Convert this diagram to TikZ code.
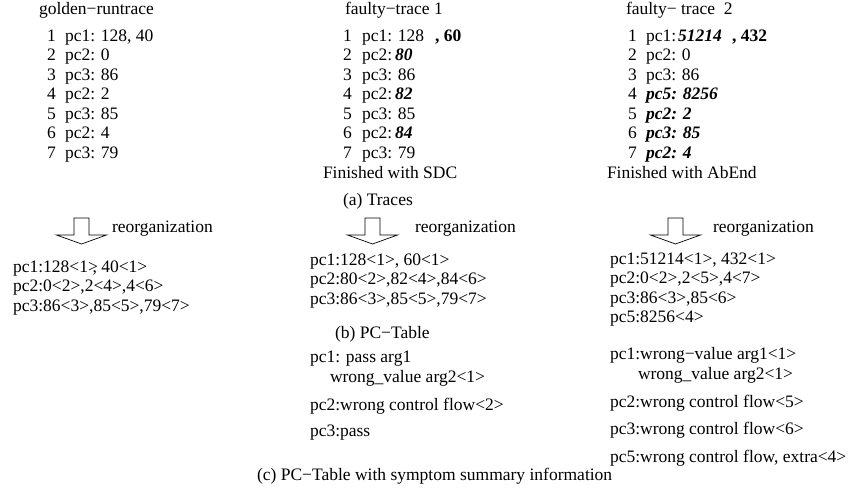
\documentclass[tikz,border=0pt]{standalone}
\usepackage{fontspec}
\setmainfont{Liberation Serif}
\begin{document}
\begin{tikzpicture}[x=1pt,y=-1pt,
  txt/.style={anchor=base west,inner sep=0pt,outer sep=0pt,font=\fontsize{17.5}{19.5}\selectfont},
  bi/.style={txt,font=\fontsize{17.5}{19.5}\selectfont\bfseries\itshape},
  bo/.style={txt,font=\fontsize{17.5}{19.5}\selectfont\bfseries},
  reorgarrow/.pic={\draw[line width=0.7pt,line join=miter]
     (-7.5,0) -- (-7.5,17) -- (-25,17) -- (0,26) -- (25,17) -- (7.5,17) -- (7.5,0) -- cycle;}]
\useasboundingbox (0,0) rectangle (852,490);

% ---------- (a) traces: golden run ----------
\node[txt] (gt) at (39,14) {golden−runtrace};
\node[txt] (gn1) at (47,41) {1};   \node[txt] (g1) at (65,41) {pc1: 128, 40};
\node[txt] (gn2) at (47,60.5) {2}; \node[txt] (g2) at (65,60.5) {pc2: 0};
\node[txt] (gn3) at (47,80) {3};   \node[txt] (g3) at (65,80) {pc3: 86};
\node[txt] (gn4) at (47,99.5) {4}; \node[txt] (g4) at (65,99.5) {pc2: 2};
\node[txt] (gn5) at (47,119) {5};  \node[txt] (g5) at (65,119) {pc3: 85};
\node[txt] (gn6) at (47,138.5) {6};\node[txt] (g6) at (65,138.5) {pc2: 4};
\node[txt] (gn7) at (47,158) {7};  \node[txt] (g7) at (65,158) {pc3: 79};

% ---------- faulty trace 1 ----------
\node[txt] (ft) at (345,14) {faulty−trace 1};
\node[txt] (fn1) at (343,41) {1};   \node[txt] (f1) at (362,41) {pc1: 128};
\node[bo] (f1b) at (435,41) {, 60};
\node[txt] (fn2) at (343,60.5) {2}; \node[txt] (f2) at (362,60.5) {pc2:\,\textbf{\textit{80}}};
\node[txt] (fn3) at (343,80) {3};   \node[txt] (f3) at (362,80) {pc3: 86};
\node[txt] (fn4) at (343,99.5) {4}; \node[txt] (f4) at (362,99.5) {pc2:\,\textbf{\textit{82}}};
\node[txt] (fn5) at (343,119) {5};  \node[txt] (f5) at (362,119) {pc3: 85};
\node[txt] (fn6) at (343,138.5) {6};\node[txt] (f6) at (362,138.5) {pc2:\,\textbf{\textit{84}}};
\node[txt] (fn7) at (343,158) {7};  \node[txt] (f7) at (362,158) {pc3: 79};
\node[txt] (fsdc) at (323,178) {Finished with SDC};
\node[txt] (capa) at (343,205) {(a) Traces};

% ---------- faulty trace 2 ----------
\node[txt] (ht) at (626,14) {faulty−\ trace\ \ 2};
\node[txt] (hn1) at (628,41) {1};   \node[txt] (h1) at (646,41) {pc1:};
\node[bi] (h1a) at (678,41) {51214};
\node[bo] (h1b) at (732,41) {, 432};
\node[txt] (hn2) at (628,60.5) {2}; \node[txt] (h2) at (646,60.5) {pc2: 0};
\node[txt] (hn3) at (628,80) {3};   \node[txt] (h3) at (646,80) {pc3: 86};
\node[txt] (hn4) at (628,99.5) {4}; \node[bi] (h4) at (646,99.5) {pc5: 8256};
\node[txt] (hn5) at (628,119) {5};  \node[bi] (h5) at (646,119) {pc2: 2};
\node[txt] (hn6) at (628,138.5) {6};\node[bi] (h6) at (646,138.5) {pc3: 85};
\node[txt] (hn7) at (628,158) {7};  \node[bi] (h7) at (646,158) {pc2: 4};
\node[txt] (habend) at (607,178) {Finished with AbEnd};

% ---------- reorganization arrows ----------
\pic at (81.5,218) {reorgarrow};
\pic at (372.5,218) {reorgarrow};
\pic at (675.5,218) {reorgarrow};
\node[txt] (r1) at (112,232) {reorganization};
\node[txt] (r2) at (415,232) {reorganization};
\node[txt] (r3) at (713,232) {reorganization};

% ---------- (b) PC tables ----------
\node[txt] (gp1) at (13,272) {pc1:128<1>\kern-0.3em, 40<1>};
\node[txt] (gp2) at (13,291.5) {pc2:0<2>,2<4>,4<6>};
\node[txt] (gp3) at (13,311) {pc3:86<3>,85<5>,79<7>};

\node[txt] (fp1) at (310,265) {pc1:128<1>, 60<1>};
\node[txt] (fp2) at (310,284.5) {pc2:80<2>,82<4>,84<6>};
\node[txt] (fp3) at (310,304) {pc3:86<3>,85<5>,79<7>};

\node[txt] (hp1) at (610,264) {pc1:51214<1>, 432<1>};
\node[txt] (hp2) at (610,283.5) {pc2:0<2>,2<5>,4<7>};
\node[txt] (hp3) at (610,303) {pc3:86<3>,85<6>};
\node[txt] (hp5) at (610,322.5) {pc5:8256<4>};

\node[txt] (capb) at (335,338) {(b) PC−Table};

% ---------- (c) symptom summary ----------
\node[txt] (fs1) at (310,362) {pc1: pass arg1};
\node[txt] (fs1b) at (330,382) {wrong\_value arg2<1>};
\node[txt] (fs2) at (310,410) {pc2:wrong control flow<2>};
\node[txt] (fs3) at (310,436) {pc3:pass};

\node[txt] (hs1) at (610,359) {pc1:wrong−value arg1<1>};
\node[txt] (hs1b) at (638,379) {wrong\_value arg2<1>};
\node[txt] (hs2) at (610,407) {pc2:wrong control flow<5>};
\node[txt] (hs3) at (610,434) {pc3:wrong control flow<6>};
\node[txt] (hs5) at (610,462) {pc5:wrong control flow, extra<4>};

\node[txt] (capc) at (257,480) {(c) PC−Table with symptom summary information};
\end{tikzpicture}
\end{document}
